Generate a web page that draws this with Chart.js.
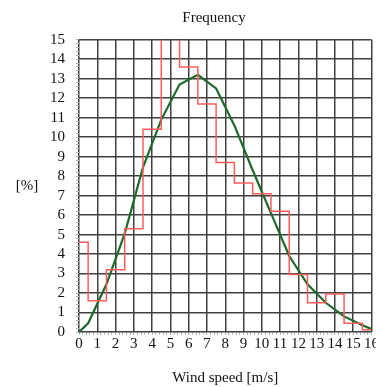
<!DOCTYPE html>
<html>
<head>
<meta charset="utf-8">
<script src="https://cdn.jsdelivr.net/npm/chart.js@4.4.1/dist/chart.umd.min.js"></script>
<style>
  html, body { margin: 0; padding: 0; background: #fff; overflow: hidden; }
  canvas { display: block; }
</style>
</head>
<body>
<canvas id="freq" width="381" height="387"></canvas>
<script>
// measured histogram, one value per 1 m/s bin (bin centre = speed)
const binSpeed = [0, 1, 2, 3, 4, 5, 6, 7, 8, 9, 10, 11, 12, 13, 14, 15, 16];
const binPct = [4.6, 1.6, 3.2, 5.3, 10.4, 16.5, 13.6, 11.7, 8.7, 7.65, 7.1, 6.2, 2.95, 1.5, 1.95, 0.45, 0.12];

// fitted distribution
const fitSpeed = [0, 0.5, 1.5, 2.5, 3.5, 4.5, 5.5, 6.5, 7.5, 8.5, 9.5, 10.5, 11.5, 12.5, 13.5, 14.5, 15.5, 16];
const fitPct = [0, 0.45, 2.45, 5.05, 8.45, 10.9, 12.7, 13.2, 12.5, 10.6, 8.3, 6.1, 3.9, 2.45, 1.5, 0.8, 0.35, 0.15];

const FONT = "'Liberation Serif', 'Times New Roman', serif";
const gridCol = "#404040";
const minorCol = "#b8b8b8";

// y axis caption is horizontal in the original, so draw it by hand
const yCaption = {
    id: "yCaption",
    afterDraw(chart) {
        const { ctx, chartArea } = chart;
        ctx.save();
        ctx.font = "15px " + FONT;
        ctx.fillStyle = "#111";
        ctx.textAlign = "center";
        ctx.textBaseline = "middle";
        ctx.fillText("[%]", chartArea.left - 52, (chartArea.top + chartArea.bottom) / 2);
        ctx.restore();
    },
};

new Chart(document.querySelector("#freq"), {
    type: "line",
    data: {
        datasets: [
            {
                label: "Measured",
                data: binSpeed.map((s, i) => ({ x: s, y: binPct[i] })),
                stepped: "middle",
                borderColor: "#ff5c5c",
                borderWidth: 1.5,
                pointRadius: 0,
                clip: 0,
            },
            {
                label: "Fit",
                data: fitSpeed.map((s, i) => ({ x: s, y: fitPct[i] })),
                borderColor: "#1d6a2a",
                borderWidth: 2.2,
                pointRadius: 0,
                tension: 0,
                clip: 0,
            },
        ],
    },
    options: {
        responsive: false,
        animation: false,
        layout: { padding: { left: 47, right: 0, top: 0, bottom: 0 } },
        plugins: {
            legend: { display: false },
            tooltip: { enabled: false },
            title: {
                display: true,
                text: "Frequency",
                color: "#111",
                font: { family: FONT, size: 15, weight: "normal" },
                padding: { top: 9, bottom: 12.7 },
            },
        },
        scales: {
            x: {
                type: "linear",
                position: "bottom",
                weight: 1,
                min: 0,
                max: 16,
                border: { display: false },
                grid: { color: gridCol, lineWidth: 1.5, drawTicks: false },
                ticks: {
                    stepSize: 1,
                    autoSkip: false,
                    maxRotation: 0,
                    padding: 2,
                    color: "#111",
                    font: { family: FONT, size: 15, lineHeight: 1 },
                },
                title: {
                    display: true,
                    text: "Wind speed [m/s]",
                    color: "#111",
                    font: { family: FONT, size: 15 },
                    padding: { top: 15, bottom: 0 },
                },
            },
            xMinor: {
                type: "linear",
                position: "bottom",
                weight: 0,
                min: 0,
                max: 16,
                border: { display: false },
                grid: { drawOnChartArea: false, color: minorCol, tickLength: 3 },
                ticks: { stepSize: 0.2, display: false },
            },
            y: {
                position: "left",
                weight: 1,
                min: 0,
                max: 15,
                border: { display: false },
                grid: { color: gridCol, lineWidth: 1.5, drawTicks: false },
                ticks: {
                    stepSize: 1,
                    autoSkip: false,
                    padding: 11,
                    color: "#111",
                    font: { family: FONT, size: 15 },
                },
                afterFit(scale) {
                    scale.width = 29;
                },
            },
            yMinor: {
                position: "left",
                weight: 0,
                min: 0,
                max: 15,
                border: { display: false },
                grid: { drawOnChartArea: false, color: minorCol, tickLength: 3 },
                ticks: { stepSize: 0.2, display: false },
            },
        },
    },
    plugins: [yCaption],
});
</script>
</body>
</html>
